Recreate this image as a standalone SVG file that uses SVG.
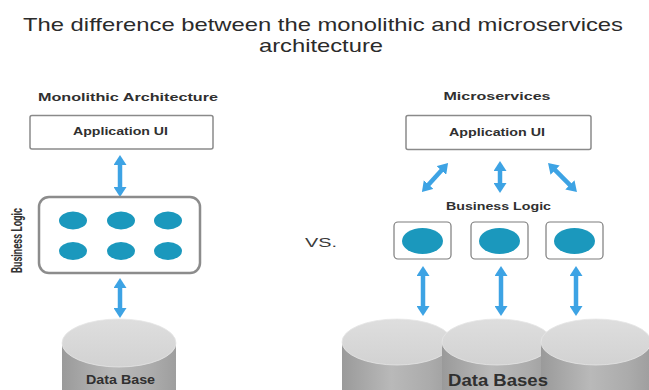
<svg xmlns="http://www.w3.org/2000/svg" width="649" height="390" viewBox="0 0 649 390">
  <style>
    .title { font-family: "Liberation Sans", Arial, sans-serif; font-size: 18.5px; fill: #2b2b2b; }
    .label { font-family: "Liberation Sans", Arial, sans-serif; font-weight: bold; fill: #303030; }
    .vs { font-family: "Liberation Sans", Arial, sans-serif; font-size: 13px; fill: #3a3a3a; }
    .side-label { font-family: Roboto, "Liberation Sans", sans-serif; font-weight: bold; font-size: 15px; fill: #333; }
    .uibox { fill: #fff; stroke: #8a8a8a; stroke-width: 1.5; }
    .logicbox { fill: #fff; stroke: #8c8c8c; stroke-width: 2.5; }
    .svcbox { fill: #fff; stroke: #7c7c7c; stroke-width: 1.2; }
    .dot { fill: #1b98bd; }
    .arrow { stroke: #3da3e4; stroke-width: 4.5; fill: none; marker-start: url(#head); marker-end: url(#head); }
    .db-side { fill: url(#sideGrad); }
    .db-top { fill: url(#topGrad); stroke: #e6e6e6; stroke-width: 0.8; }
  </style>
  <defs>
    <marker id="head" viewBox="0 0 10 13" markerWidth="10" markerHeight="13" refX="2" refY="6.5" markerUnits="userSpaceOnUse" orient="auto-start-reverse">
      <path d="M0,0 L10,6.5 L0,13 z" fill="#3da3e4"/>
    </marker>
    <linearGradient id="sideGrad" x1="0" y1="0" x2="1" y2="0">
      <stop offset="0" stop-color="#9a9a9a"/>
      <stop offset="0.45" stop-color="#b9b9b9"/>
      <stop offset="0.8" stop-color="#ababab"/>
      <stop offset="1" stop-color="#9e9e9e"/>
    </linearGradient>
    <linearGradient id="topGrad" x1="0" y1="0" x2="0" y2="1">
      <stop offset="0" stop-color="#dedede"/>
      <stop offset="1" stop-color="#d2d2d2"/>
    </linearGradient>
  </defs>

  <!-- heading -->
  <text class="title" x="323" y="31" text-anchor="middle" textLength="600" lengthAdjust="spacingAndGlyphs">The difference between the monolithic and microservices</text>
  <text class="title" x="321" y="52" text-anchor="middle" textLength="124" lengthAdjust="spacingAndGlyphs">architecture</text>

  <!-- section headings -->
  <text class="label" x="128" y="101" font-size="11.5" text-anchor="middle" textLength="180" lengthAdjust="spacingAndGlyphs">Monolithic Architecture</text>
  <text class="label" x="497" y="100" font-size="11.5" text-anchor="middle" textLength="107" lengthAdjust="spacingAndGlyphs">Microservices</text>
  <text class="vs" x="321" y="247" text-anchor="middle" textLength="32" lengthAdjust="spacingAndGlyphs">VS.</text>

  <!-- connectors -->
  <g id="connectors">
    <line class="arrow" x1="120" y1="163" x2="120" y2="189"/>
    <line class="arrow" x1="120" y1="286" x2="120" y2="310"/>
    <line class="arrow" x1="442.7" y1="169" x2="427.3" y2="186"/>
    <line class="arrow" x1="500" y1="169" x2="500" y2="185"/>
    <line class="arrow" x1="553.7" y1="168.7" x2="571.3" y2="186.3"/>
    <line class="arrow" x1="423" y1="274" x2="423" y2="308"/>
    <line class="arrow" x1="501" y1="274" x2="501" y2="308"/>
    <line class="arrow" x1="576" y1="274" x2="576" y2="308"/>
  </g>

  <!-- monolithic side -->
  <g id="mono-ui">
    <rect class="uibox" x="30" y="115.5" width="183" height="33.5" rx="2"/>
    <text class="label" x="120.5" y="135" font-size="10" text-anchor="middle" textLength="95" lengthAdjust="spacingAndGlyphs">Application UI</text>
  </g>

  <g id="mono-logic">
    <rect class="logicbox" x="39" y="197" width="161" height="76" rx="10"/>
    <ellipse class="dot" cx="73" cy="220.5" rx="14" ry="9"/>
    <ellipse class="dot" cx="121" cy="220.5" rx="14" ry="9"/>
    <ellipse class="dot" cx="168" cy="220.5" rx="14" ry="9"/>
    <ellipse class="dot" cx="73" cy="251" rx="14" ry="9"/>
    <ellipse class="dot" cx="121" cy="251" rx="14" ry="9"/>
    <ellipse class="dot" cx="168" cy="251" rx="14" ry="9"/>
    <text class="side-label" transform="translate(21.5 240.5) rotate(-90)" text-anchor="middle" textLength="65" lengthAdjust="spacingAndGlyphs">Business Logic</text>
  </g>

  <g id="mono-db">
    <rect class="db-side" x="62" y="343" width="114" height="60"/>
    <ellipse class="db-top" cx="119" cy="343" rx="57" ry="24"/>
    <text class="label" x="120.5" y="384" font-size="12" text-anchor="middle" textLength="69" lengthAdjust="spacingAndGlyphs">Data Base</text>
  </g>

  <!-- microservices side -->
  <g id="micro-ui">
    <rect class="uibox" x="406" y="115.5" width="185" height="34" rx="2"/>
    <text class="label" x="497" y="136" font-size="10" text-anchor="middle" textLength="96" lengthAdjust="spacingAndGlyphs">Application UI</text>
  </g>

  <text class="label" x="498.5" y="210" font-size="10.5" text-anchor="middle" textLength="105" lengthAdjust="spacingAndGlyphs">Business Logic</text>

  <g id="service-1">
    <rect class="svcbox" x="394" y="222" width="57" height="37" rx="4"/>
    <ellipse class="dot" cx="422.5" cy="241" rx="20.5" ry="13"/>
  </g>
  <g id="service-2">
    <rect class="svcbox" x="471" y="222" width="57" height="37" rx="4"/>
    <ellipse class="dot" cx="499.5" cy="241" rx="20.5" ry="13"/>
  </g>
  <g id="service-3">
    <rect class="svcbox" x="546" y="222" width="57" height="37" rx="4"/>
    <ellipse class="dot" cx="574.5" cy="241" rx="20.5" ry="13"/>
  </g>

  <g id="micro-dbs">
    <rect class="db-side" x="342" y="342" width="110" height="60"/>
    <ellipse class="db-top" cx="397" cy="342" rx="55" ry="23"/>
    <rect class="db-side" x="442" y="342" width="110" height="60"/>
    <ellipse class="db-top" cx="497" cy="342" rx="55" ry="23"/>
    <rect class="db-side" x="541" y="342" width="110" height="60"/>
    <ellipse class="db-top" cx="596" cy="342" rx="55" ry="23"/>
    <text class="label" x="498" y="386" font-size="16" text-anchor="middle" textLength="100" lengthAdjust="spacingAndGlyphs">Data Bases</text>
  </g>
</svg>
